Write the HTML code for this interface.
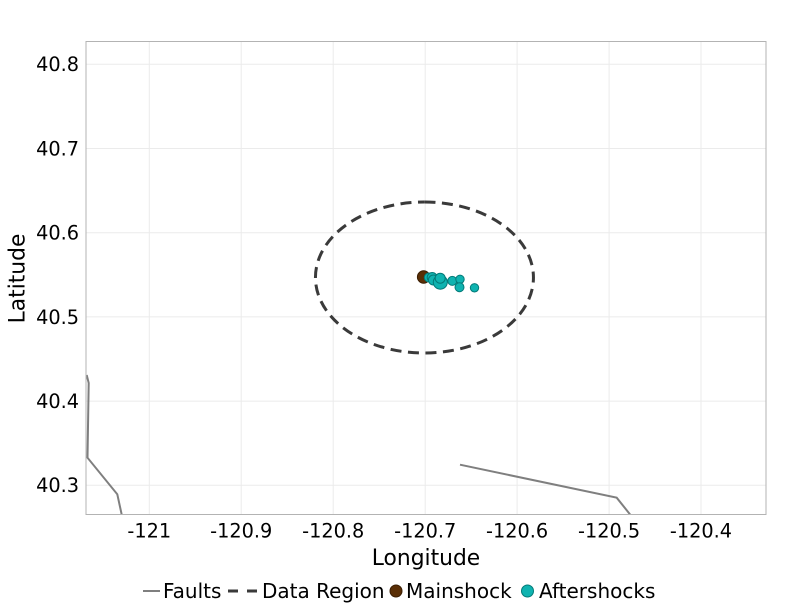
<!DOCTYPE html>
<html>
<head>
<meta charset="utf-8">
<style>
html,body{margin:0;padding:0;background:#fff;}
svg{display:block;font-family:"DejaVu Sans","Liberation Sans",sans-serif;}
</style>
</head>
<body>
<svg width="800" height="607" viewBox="0 0 800 607" xmlns="http://www.w3.org/2000/svg">
  <rect x="0" y="0" width="800" height="607" fill="#fff"/>
  <defs>
    <clipPath id="panel"><rect x="86" y="41.5" width="680" height="473"/></clipPath>
  </defs>
  <!-- gridlines -->
  <g stroke="#ebebeb" stroke-width="1">
    <line x1="149.3" y1="41.5" x2="149.3" y2="514.5"/>
    <line x1="241.2" y1="41.5" x2="241.2" y2="514.5"/>
    <line x1="333.2" y1="41.5" x2="333.2" y2="514.5"/>
    <line x1="425.2" y1="41.5" x2="425.2" y2="514.5"/>
    <line x1="517.1" y1="41.5" x2="517.1" y2="514.5"/>
    <line x1="609.1" y1="41.5" x2="609.1" y2="514.5"/>
    <line x1="701.0" y1="41.5" x2="701.0" y2="514.5"/>
    <line x1="86" y1="64.3" x2="766" y2="64.3"/>
    <line x1="86" y1="148.5" x2="766" y2="148.5"/>
    <line x1="86" y1="232.7" x2="766" y2="232.7"/>
    <line x1="86" y1="316.9" x2="766" y2="316.9"/>
    <line x1="86" y1="401.1" x2="766" y2="401.1"/>
    <line x1="86" y1="485.3" x2="766" y2="485.3"/>
  </g>
  <g clip-path="url(#panel)">
    <!-- faults -->
    <polyline points="86.7,375 88.7,383 87.5,457.7 117.3,494.3 122,516" fill="none" stroke="#7f7f7f" stroke-width="2"/>
    <polyline points="460,464.7 616.7,497.7 631.3,516" fill="none" stroke="#7f7f7f" stroke-width="2"/>
    <!-- data region -->
    <path d="M424.5,202 A109,75.5 0 1 1 424.4,202" fill="none" stroke="#3a3a3a" stroke-width="3" stroke-dasharray="11 6.5"/>
    <!-- mainshock -->
    <circle cx="423.6" cy="277" r="6.2" fill="#5a2e05" stroke="#3a1d02" stroke-width="1"/>
    <!-- aftershocks -->
    <g fill="#0fb3b0" stroke="#037a78" stroke-width="1">
      <circle cx="428.8" cy="277.5" r="4.5"/>
      <circle cx="432.2" cy="277.5" r="5"/>
      <circle cx="433.4" cy="280" r="5"/>
      <circle cx="440.3" cy="282.2" r="7"/>
      <circle cx="440.2" cy="278.2" r="5"/>
      <circle cx="452.3" cy="280.9" r="4.5"/>
      <circle cx="460" cy="279.3" r="4.2"/>
      <circle cx="459.5" cy="287.2" r="4.5"/>
      <circle cx="474.5" cy="287.8" r="4.2"/>
    </g>
  </g>
  <!-- panel border -->
  <rect x="86" y="41.5" width="680" height="473" fill="none" stroke="#b3b3b3" stroke-width="1"/>
  <!-- y tick labels -->
  <g font-size="19.3" fill="#000" text-anchor="end">
    <text x="79" y="71.2">40.8</text>
    <text x="79" y="155.4">40.7</text>
    <text x="79" y="239.6">40.6</text>
    <text x="79" y="323.8">40.5</text>
    <text x="79" y="408">40.4</text>
    <text x="79" y="492.2">40.3</text>
  </g>
  <!-- x tick labels -->
  <g font-size="19.3" fill="#000" text-anchor="middle">
    <text x="149.3" y="537.3">-121</text>
    <text x="241.2" y="537.3">-120.9</text>
    <text x="333.2" y="537.3">-120.8</text>
    <text x="425.2" y="537.3">-120.7</text>
    <text x="517.1" y="537.3">-120.6</text>
    <text x="609.1" y="537.3">-120.5</text>
    <text x="701.0" y="537.3">-120.4</text>
  </g>
  <!-- axis titles -->
  <text x="426" y="565" font-size="21.8" text-anchor="middle" fill="#000">Longitude</text>
  <text transform="translate(24.5,278.5) rotate(-90)" font-size="21.8" text-anchor="middle" fill="#000">Latitude</text>
  <!-- legend -->
  <line x1="143" y1="591" x2="160" y2="591" stroke="#7f7f7f" stroke-width="2"/>
  <text x="163" y="598" font-size="20" fill="#000">Faults</text>
  <line x1="228" y1="591" x2="257" y2="591" stroke="#3a3a3a" stroke-width="3" stroke-dasharray="10 9"/>
  <text x="262" y="598" font-size="20" fill="#000">Data Region</text>
  <circle cx="396" cy="591" r="6" fill="#5a2e05" stroke="#3a1d02" stroke-width="1"/>
  <text x="406" y="598" font-size="20" fill="#000">Mainshock</text>
  <circle cx="527.5" cy="591" r="6" fill="#0fb3b0" stroke="#037a78" stroke-width="1"/>
  <text x="539" y="598" font-size="20" fill="#000">Aftershocks</text>
</svg>
</body>
</html>
